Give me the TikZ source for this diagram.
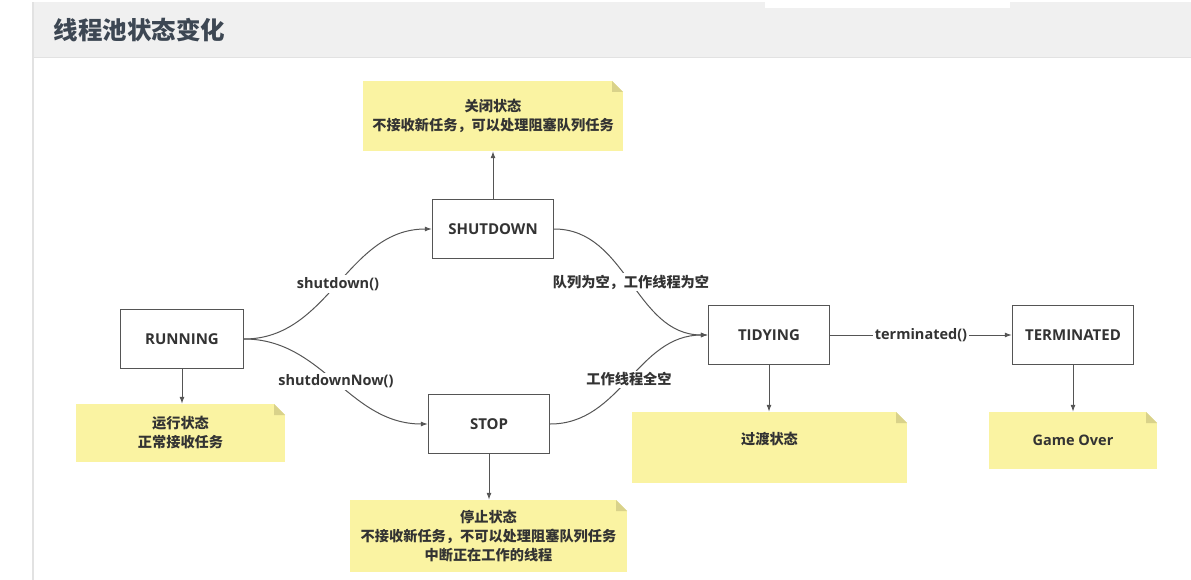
\documentclass[tikz,border=0pt]{standalone}
\usepackage{fontspec}
\setmainfont{Open Sans}
\newfontfamily\cjk{Noto Sans CJK SC}
\usepackage{tikz}
\usetikzlibrary{arrows.meta, positioning}
\definecolor{tpgray}{HTML}{555555}
\definecolor{tptext}{HTML}{333333}
\definecolor{tpnote}{HTML}{FAF3A2}
\definecolor{tpfold}{HTML}{D9D28A}
\definecolor{tpbar}{HTML}{F0F0F0}
\definecolor{tpline}{HTML}{E2E2E2}
\definecolor{tptitle}{HTML}{3D4753}

\begin{document}
\begin{tikzpicture}[x=1pt, y=-1pt,
  state/.style={draw=tpgray, fill=white, line width=1.3pt, minimum width=121pt,
                minimum height=59pt, text=tptext, font=\fontsize{15}{18}\selectfont\bfseries},
  note/.style={fill=tpnote, inner sep=0pt, align=center, text=tptext,
               font=\cjk\fontsize{14.2}{19}\selectfont\bfseries,
               path picture={
                 \fill[white] ([xshift=-11pt]path picture bounding box.north east)
                   -- (path picture bounding box.north east)
                   -- ([yshift=-11pt]path picture bounding box.north east) -- cycle;
                 \fill[tpfold] ([xshift=-11pt]path picture bounding box.north east)
                   -- ([xshift=-11pt,yshift=-11pt]path picture bounding box.north east)
                   -- ([yshift=-11pt]path picture bounding box.north east) -- cycle;
               }},
  link/.style={-{Latex[length=7pt,width=5pt]}, draw=tpgray, line width=1pt},
  lbl/.style={fill=white, inner sep=2pt, text=tptext, font=\fontsize{14.5}{17}\selectfont\bfseries},
  cnlbl/.style={lbl, font=\cjk\fontsize{14.2}{17}\selectfont\bfseries},
]
  \useasboundingbox (0,0) rectangle (1191,580);

  % Page frame
  \fill[tpbar] (33,2) rectangle (1191,58);
  \fill[white] (765,0) rectangle (1010,8);
  \draw[tpline, line width=1pt] (33,58) -- (1191,58);
  \draw[tpline, line width=1.5pt] (33,2) -- (33,580);
  \node[anchor=west, text=tptitle, font=\cjk\fontsize{24.5}{28}\selectfont\bfseries] (title) at (50,30) {线程池状态变化};

  % States
  \node[state, minimum width=123pt] (run) at (182,339) {RUNNING};
  \node[state] (shut) at (493,229) {SHUTDOWN};
  \node[state] (stop) at (489,424) {STOP};
  \node[state] (tidy) at (769,335) {TIDYING};
  \node[state] (term) at (1073,335) {TERMINATED};

  % Notes
  \node[note, minimum width=260pt, minimum height=70pt] (shutnote) at (493,116) {关闭状态\\不接收新任务，可以处理阻塞队列任务};
  \node[note, minimum width=209pt, minimum height=58pt] (runnote) at (180.5,433) {运行状态\\正常接收任务};
  \node[note, minimum width=277pt, minimum height=72pt] (stopnote) at (488.5,536) {停止状态\\不接收新任务，不可以处理阻塞队列任务\\中断正在工作的线程};
  \node[note, minimum width=275pt, minimum height=71pt, text depth=18pt] (tidynote) at (769.5,447.5) {过渡状态};
  \node[note, minimum width=168pt, minimum height=57pt, font=\fontsize{14.5}{17}\selectfont\bfseries] (termnote) at (1073,440.5) {Game Over};

  % Transitions
  \draw[link] (run.east) to[out=0, in=180] node[lbl] {shutdown()} (shut.west);
  \draw[link] (run.east) to[out=0, in=180] node[lbl] {shutdownNow()} (stop.west);
  \draw[link] (shut.east) to[out=0, in=180] node[cnlbl] {队列为空，工作线程为空} (tidy.west);
  \draw[link] (stop.east) to[out=0, in=180] node[cnlbl] {工作线程全空} (tidy.west);
  \draw[link] (tidy.east) -- node[lbl] {terminated()} (term.west);

  % State to note
  \draw[link] (shut.north) -- (shut.north |- shutnote.south);
  \draw[link] (run.south) -- (run.south |- runnote.north);
  \draw[link] (stop.south) -- (stop.south |- stopnote.north);
  \draw[link] (tidy.south) -- (tidy.south |- tidynote.north);
  \draw[link] (term.south) -- (term.south |- termnote.north);
\end{tikzpicture}
\end{document}
